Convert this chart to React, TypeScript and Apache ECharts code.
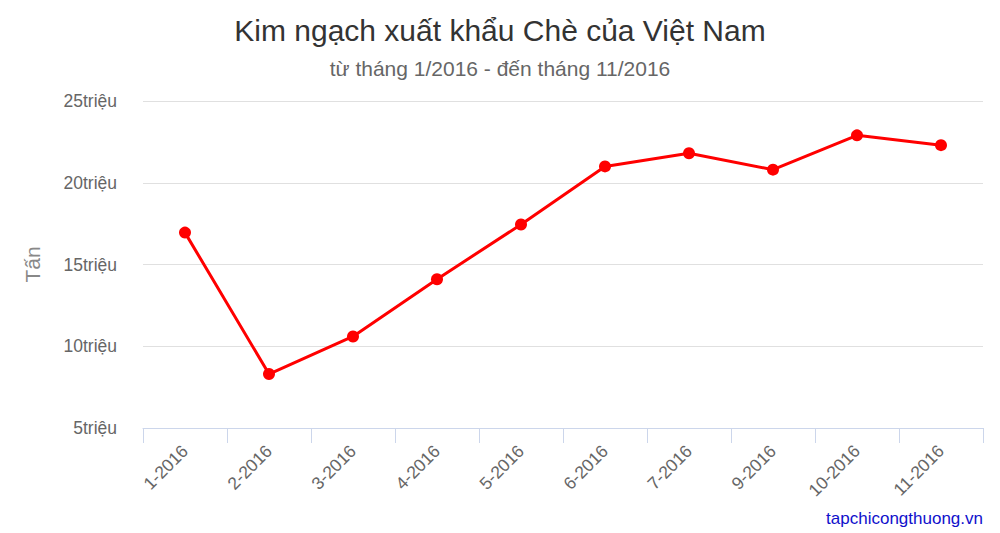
import React, { useEffect, useRef } from "react";
import * as echarts from "echarts";

const categories = ["1-2016", "2-2016", "3-2016", "4-2016", "5-2016", "6-2016", "7-2016", "9-2016", "10-2016", "11-2016"];
const values = [16.95, 8.3, 10.6, 14.1, 17.45, 21.0, 21.8, 20.8, 22.9, 22.3];
const yTicks = [5, 10, 15, 20, 25];
const titleText = "Kim ngạch xuất khẩu Chè của Việt Nam";
const subtitleText = "từ tháng 1/2016 - đến tháng 11/2016";
const yAxisName = "Tấn";
const creditText = "tapchicongthuong.vn";

const FONT = "'Liberation Sans', Arial, sans-serif";

export default function App() {
  const ref = useRef<HTMLDivElement>(null);
  useEffect(() => {
    if (!ref.current) return;
    const chart = echarts.init(ref.current, null, { renderer: "svg" });
    chart.setOption({
      animation: false,
      backgroundColor: "#ffffff",
      title: [
        {
          text: titleText,
          left: "center",
          top: 10,
          textStyle: { fontFamily: FONT, fontSize: 30, fontWeight: "normal", color: "#333333" },
        },
        {
          text: subtitleText,
          left: "center",
          top: 53,
          textStyle: { fontFamily: FONT, fontSize: 21, fontWeight: "normal", color: "#666666" },
        },
      ],
      grid: { left: 143, right: 17, top: 101, bottom: 105, containLabel: false },
      xAxis: {
        type: "category",
        data: categories,
        boundaryGap: true,
        axisLine: { show: true, lineStyle: { color: "#ccd6eb", width: 1 } },
        axisTick: { show: true, length: 15, alignWithLabel: false, lineStyle: { color: "#ccd6eb" } },
        axisLabel: { rotate: 45, margin: 20, fontFamily: FONT, fontSize: 17.5, color: "#666666", interval: 0 },
        splitLine: { show: false },
      },
      yAxis: {
        type: "value",
        min: yTicks[0],
        max: yTicks[yTicks.length - 1],
        interval: 5,
        name: yAxisName,
        nameLocation: "middle",
        nameGap: 100,
        nameRotate: 90,
        nameTextStyle: { fontFamily: FONT, fontSize: 21, color: "#888888" },
        axisLine: { show: false },
        axisTick: { show: false },
        axisLabel: {
          margin: 26,
          fontFamily: FONT,
          fontSize: 17.5,
          color: "#666666",
          formatter: (v: number) => `${v}triệu`,
        },
        splitLine: { show: true, lineStyle: { color: "#e0e0e0", width: 1 } },
      },
      series: [
        {
          type: "line",
          data: values,
          symbol: "circle",
          symbolSize: 12,
          lineStyle: { color: "#ff0000", width: 3 },
          itemStyle: { color: "#ff0000" },
        },
      ],
      graphic: [
        {
          type: "text",
          right: 17,
          top: 510,
          style: { text: creditText, fontFamily: FONT, fontSize: 17, fill: "#1010cc" },
        },
      ],
    });
    return () => chart.dispose();
  }, []);
  return <div ref={ref} style={{ width: 1000, height: 533, position: "absolute", left: 0, top: 0 }} />;
}
